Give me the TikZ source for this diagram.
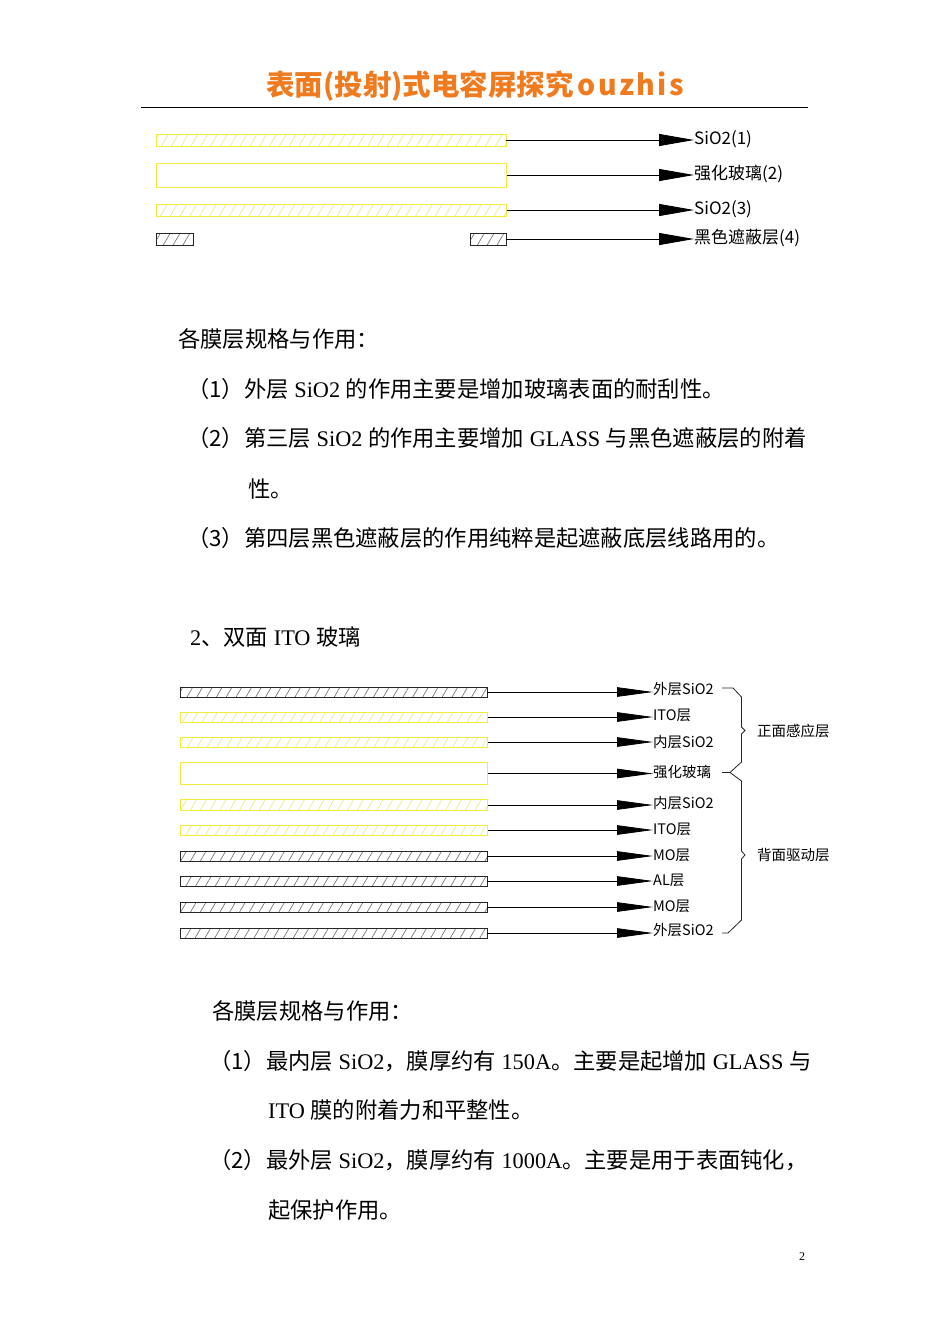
\documentclass[tikz,border=0pt]{standalone}
\usepackage{fontspec}
\setmainfont{Liberation Serif}
\newfontfamily\cjk{Noto Sans CJK SC}
\usetikzlibrary{arrows.meta,patterns.meta}
\definecolor{hdr}{HTML}{F07A1E}
\definecolor{ylw}{HTML}{F4EC3C}
\definecolor{ylwh}{HTML}{EFE77A}
\definecolor{hgray}{HTML}{6A6A6A}
\newcommand{\lk}{\kern2.3pt}
\tikzset{
  ybar/.style={draw=ylw, line width=1pt, pattern={Lines[angle=60,distance=8.5pt,line width=0.6pt]}, pattern color=ylwh, inner sep=0pt},
  yplain/.style={draw=ylw, line width=1pt, fill=white, inner sep=0pt},
  kbar/.style={draw=black!85, line width=0.9pt, pattern={Lines[angle=60,distance=8.5pt,line width=0.6pt]}, pattern color=hgray, inner sep=0pt},
  lblA/.style={anchor=west, inner sep=0pt, xshift=4pt, font=\cjk\fontsize{17}{17}\selectfont},
  lblB/.style={anchor=west, inner sep=0pt, xshift=2pt, font=\cjk\fontsize{14.5}{14.5}\selectfont},
  arrA/.style={-{Triangle[length=35pt,width=12pt]}, line width=0.8pt},
  arrB/.style={-{Triangle[length=36pt,width=9.5pt]}, line width=0.8pt},
  body/.style={anchor=west, inner sep=0pt, font=\fontsize{22.3}{22.3}\selectfont},
  brace/.style={line width=0.8pt, black!85},
}
\begin{document}
\begin{tikzpicture}[x=1pt,y=-1pt]
\useasboundingbox (0,0) rectangle (950,1344);
\fill[white] (0,0) rectangle (950,1344);
% header
\node[font=\cjk\bfseries\fontsize{28.5}{28.5}\selectfont, text=hdr, inner sep=0pt] (title) at (475,86) {表面(投射)式电容屏探究\kern4pt o\lk u\lk z\lk h\lk i\lk s};
\coordinate (rl) at (141,107);
\coordinate (rr) at (808,107);
\draw[line width=0.9pt] (rl) -- (rr);
% top diagram
\node[ybar, minimum width=350pt, minimum height=12pt] (t1) at (331,140) {};
\node[yplain, minimum width=350pt, minimum height=24pt] (t2) at (331,175) {};
\node[ybar, minimum width=350pt, minimum height=12pt] (t3) at (331,210) {};
\node[kbar, minimum width=37pt, minimum height=12pt] (t4a) at (174.5,239) {};
\node[kbar, minimum width=36pt, minimum height=12pt] (t4b) at (488,239) {};
\node[lblA] (tl1) at (690,139) {SiO2(1)};
\node[lblA] (tl2) at (690,174) {强化玻璃(2)};
\node[lblA] (tl3) at (690,209) {SiO2(3)};
\node[lblA] (tl4) at (690,238) {黑色遮蔽层(4)};
\draw[arrA] (t1.east) -- (t1.east -| tl1.west);
\draw[arrA] (t2.east) -- (t2.east -| tl2.west);
\draw[arrA] (t3.east) -- (t3.east -| tl3.west);
\draw[arrA] (t4b.east) -- (t4b.east -| tl4.west);
% text block 1
\node[body] (p0) at (178,339) {{\cjk 各膜层规格与作用：}};
\node[body] (p1) at (187,389) {{\cjk （1）外层} SiO2 {\cjk 的作用主要是增加玻璃表面的耐刮性。}};
\node[body] (p2) at (187,438) {{\cjk （2）第三层} SiO2 {\cjk 的作用主要增加} GLASS {\cjk 与黑色遮蔽层的附着}};
\node[body] (p2b) at (248,489) {{\cjk 性。}};
\node[body] (p3) at (187,538) {{\cjk （3）第四层黑色遮蔽层的作用纯粹是起遮蔽底层线路用的。}};
\node[body] (s2) at (190,637) {2{\cjk 、双面} ITO {\cjk 玻璃}};
% second diagram
\node[kbar, minimum width=307pt, minimum height=10pt] (b1) at (333.5,692) {};
\node[ybar, minimum width=307pt, minimum height=10pt] (b2) at (333.5,717) {};
\node[ybar, minimum width=307pt, minimum height=10pt] (b3) at (333.5,742) {};
\node[yplain, minimum width=307pt, minimum height=21.5pt] (b4) at (333.5,773.5) {};
\node[ybar, minimum width=307pt, minimum height=11pt] (b5) at (333.5,805) {};
\node[ybar, minimum width=307pt, minimum height=10pt] (b6) at (333.5,830) {};
\node[kbar, minimum width=307pt, minimum height=10pt] (b7) at (333.5,856) {};
\node[kbar, minimum width=307pt, minimum height=10pt] (b8) at (333.5,881) {};
\node[kbar, minimum width=307pt, minimum height=10pt] (b9) at (333.5,907) {};
\node[kbar, minimum width=307pt, minimum height=10pt] (b10) at (333.5,933) {};
\node[lblB] (l1) at (651,689) {外层SiO2};
\node[lblB] (l2) at (651,715) {ITO层};
\node[lblB] (l3) at (651,742) {内层SiO2};
\node[lblB] (l4) at (651,772) {强化玻璃};
\node[lblB] (l5) at (651,803) {内层SiO2};
\node[lblB] (l6) at (651,829) {ITO层};
\node[lblB] (l7) at (651,855) {MO层};
\node[lblB] (l8) at (651,880) {AL层};
\node[lblB] (l9) at (651,906) {MO层};
\node[lblB] (l10) at (651,930) {外层SiO2};
\foreach \i in {1,...,10} {
  \draw[arrB] (b\i.east) -- (b\i.east -| l\i.west);
}
% braces
\draw[brace] (722,688) -- (733,688) -- (741.5,697) -- (741.5,727) -- (745,730.5) -- (741.5,734) -- (741.5,762) -- (730,772.5) -- (722,772.5);
\draw[brace] (730,772.5) -- (741.5,781) -- (741.5,851) -- (745,855) -- (741.5,859) -- (741.5,920) -- (728,933) -- (722,933);
\node[lblB, xshift=0pt] (g1) at (755,731) {正面感应层};
\node[lblB, xshift=0pt] (g2) at (755,855) {背面驱动层};
% text block 2
\node[body] (q0) at (212,1011) {{\cjk 各膜层规格与作用：}};
\node[body] (q1) at (209,1061) {{\cjk （1）最内层} SiO2{\cjk ，膜厚约有} 150A{\cjk 。主要是起增加} GLASS {\cjk 与}};
\node[body] (q1b) at (268,1110) {ITO {\cjk 膜的附着力和平整性。}};
\node[body] (q2) at (209,1160) {{\cjk （2）最外层} SiO2{\cjk ，膜厚约有} 1000A{\cjk 。主要是用于表面钝化，}};
\node[body] (q2b) at (268,1210) {{\cjk 起保护作用。}};
\node[anchor=center, inner sep=0pt, font=\fontsize{12}{12}\selectfont] (pg) at (802,1257) {2};
\end{tikzpicture}
\end{document}
